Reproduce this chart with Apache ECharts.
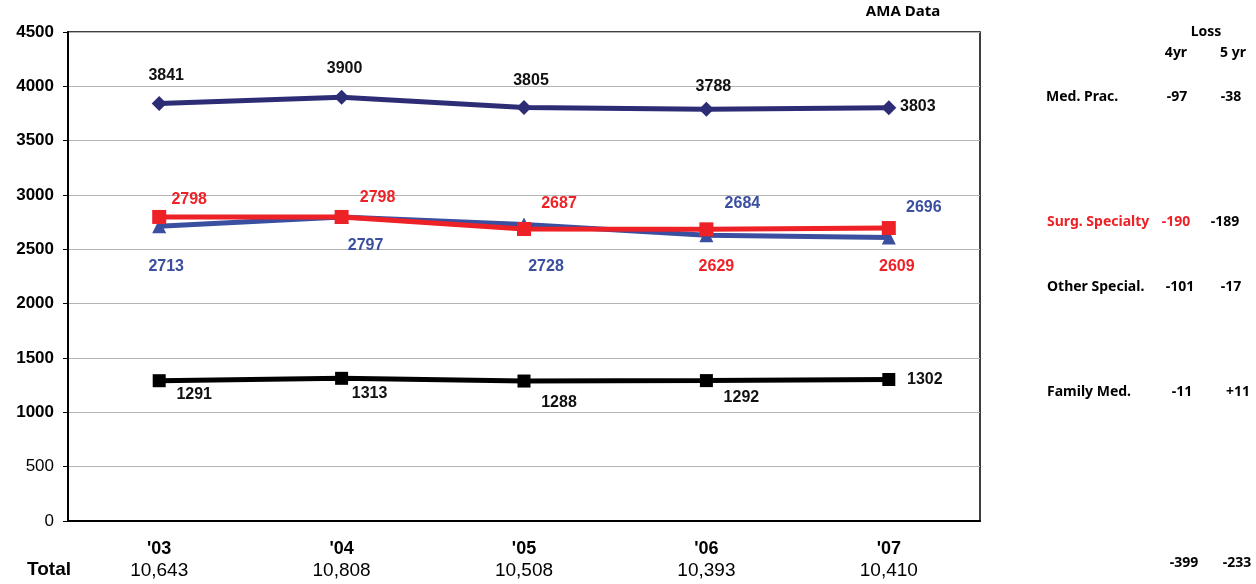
<!DOCTYPE html>
<html>
<head>
<meta charset="utf-8">
<style>
  html, body { margin: 0; padding: 0; background: #fff; }
  #chart { width: 1256px; height: 584px; }
</style>
<script src="https://cdn.jsdelivr.net/npm/echarts@6/dist/echarts.min.js"></script>
</head>
<body>
<div id="chart"></div>
<script>
// Physician counts by specialty group, AMA data
const years = ["'03", "'04", "'05", "'06", "'07"];
const totals = ['10,643', '10,808', '10,508', '10,393', '10,410'];
const medPrac = [3841, 3900, 3805, 3788, 3803];
const surgSpecialty = [2798, 2798, 2687, 2684, 2696];
const otherSpecial = [2713, 2797, 2728, 2629, 2609];
const familyMed = [1291, 1313, 1288, 1292, 1302];
const yTicks = [0, 500, 1000, 1500, 2000, 2500, 3000, 3500, 4000, 4500];

// Loss table shown at the right
const lossRows = [
  { name: 'Med. Prac.', y4: '-97', y5: '-38' },
  { name: 'Surg. Specialty', y4: '-190', y5: '-189' },
  { name: 'Other Special.', y4: '-101', y5: '-17' },
  { name: 'Family Med.', y4: '-11', y5: '+11' }
];
const lossTotal = { y4: '-399', y5: '-233' };

// Label placement (pixel offsets from each point) and colours
const NAVY = '#2c2d75', RED = '#ee2127', BLUE = '#3a4f9f', BLACK = '#000', INK = '#111';
const medOff = [[7, -28], [3, -29], [7, -27], [7, -23], [29, -1]];
const surgOff = [[30, -17], [36, -19], [35, -25], [36, -26], [35, -20]];
const surgLabelColor = [RED, RED, RED, BLUE, BLUE];
const otherOff = [[7, 40], [24, 29], [22, 42], [10, 31], [8, 29]];
const otherLabelColor = [BLUE, BLUE, BLUE, RED, RED];
const famOff = [[35, 14], [28, 15], [35, 22], [35, 17], [36, 0]];

const labelFont = { fontFamily: 'Liberation Sans, Arial, sans-serif', fontWeight: 'bold', fontSize: 16 };

function points(values, offsets, colors, base) {
  return values.map((v, i) => ({
    value: v,
    label: Object.assign({
      show: true, position: 'inside', offset: offsets[i],
      color: colors ? colors[i] : base
    }, labelFont)
  }));
}

function lineSeries(name, values, color, symbol, size, offsets, labelColors, labelBase) {
  return {
    name, type: 'line', data: points(values, offsets, labelColors, labelBase || color),
    symbol, symbolSize: size, showSymbol: true,
    lineStyle: { color, width: 5 },
    itemStyle: { color, opacity: 1 },
    emphasis: { disabled: true }, animation: false, z: 3
  };
}

const chart = echarts.init(document.getElementById('chart'), null, { renderer: 'canvas' });

const sideFont = '"Noto Sans", "Open Sans", sans-serif';
function sideText(text, x, y, color, align, size) {
  return {
    type: 'text', x, y,
    style: { text, fill: color || '#000', font: 'bold ' + (size || 14) + 'px ' + sideFont,
             textAlign: align || 'left', textVerticalAlign: 'middle' }
  };
}
const rowY = [97, 222, 287, 392];
const graphics = [
  sideText('AMA Data', 903, 12, '#000', 'center', 15),
  sideText('Loss', 1206, 32, '#000', 'center'),
  sideText('4yr', 1176, 53, '#000', 'center'),
  sideText('5 yr', 1233, 53, '#000', 'center'),
  sideText(lossTotal.y4, 1184, 563, '#000', 'center'),
  sideText(lossTotal.y5, 1237, 563, '#000', 'center'),
  {
    type: 'text', x: 27, y: 570,
    style: { text: 'Total', fill: '#000', font: 'bold 19px Liberation Sans, Arial, sans-serif',
             textAlign: 'left', textVerticalAlign: 'middle' }
  }
];
const nameX = [1046, 1047, 1047, 1047];
const y4X = [1177, 1176, 1180, 1182];
const y5X = [1231, 1225, 1231, 1238];
lossRows.forEach((r, i) => {
  const c = i === 1 ? RED : '#000';
  graphics.push(sideText(r.name, nameX[i], rowY[i], c));
  graphics.push(sideText(r.y4, y4X[i], rowY[i], c, 'center'));
  graphics.push(sideText(r.y5, y5X[i], rowY[i], '#000', 'center'));
});

chart.setOption({
  animation: false,
  backgroundColor: '#fff',
  grid: {
    left: 68, right: 276, top: 32, bottom: 63,
    show: true, borderColor: '#000', borderWidth: 1.5, backgroundColor: 'transparent'
  },
  xAxis: {
    type: 'category', data: years, boundaryGap: true,
    axisLine: { show: true, lineStyle: { color: '#000', width: 2 } },
    axisTick: { show: false },
    axisLabel: {
      margin: 17,
      interval: 0,
      formatter: (v, i) => '{y|' + v + '}\n{t|' + totals[i] + '}',
      rich: {
        y: { fontFamily: 'Liberation Sans, Arial, sans-serif', fontWeight: 'bold', fontSize: 18, color: '#000', lineHeight: 22 },
        t: { fontFamily: 'Liberation Sans, Arial, sans-serif', fontSize: 19, color: '#000', lineHeight: 22 }
      }
    }
  },
  yAxis: {
    type: 'value', min: yTicks[0], max: yTicks[yTicks.length - 1], interval: 500,
    axisLine: { show: true, lineStyle: { color: '#000', width: 2 } },
    axisTick: { show: true, length: 5, lineStyle: { color: '#000' } },
    splitLine: { show: true, lineStyle: { color: '#b4b4b4', width: 1 } },
    axisLabel: {
      margin: 14,
      formatter: v => (v >= 1000 ? '{b|' + v + '}' : '{n|' + v + '}'),
      rich: {
        b: { fontFamily: 'Liberation Sans, Arial, sans-serif', fontWeight: 'bold', fontSize: 17, color: '#000' },
        n: { fontFamily: 'Liberation Sans, Arial, sans-serif', fontSize: 17, color: '#000' }
      }
    }
  },
  series: [
    lineSeries('Family Med.', familyMed, BLACK, 'rect', 13, famOff, null, INK),
    lineSeries('Other Special.', otherSpecial, BLUE, 'triangle', 14, otherOff, otherLabelColor),
    lineSeries('Surg. Specialty', surgSpecialty, RED, 'rect', 14, surgOff, surgLabelColor),
    lineSeries('Med. Prac.', medPrac, NAVY, 'diamond', 15, medOff, null, INK)
  ],
  graphic: graphics
});
</script>
</body>
</html>
